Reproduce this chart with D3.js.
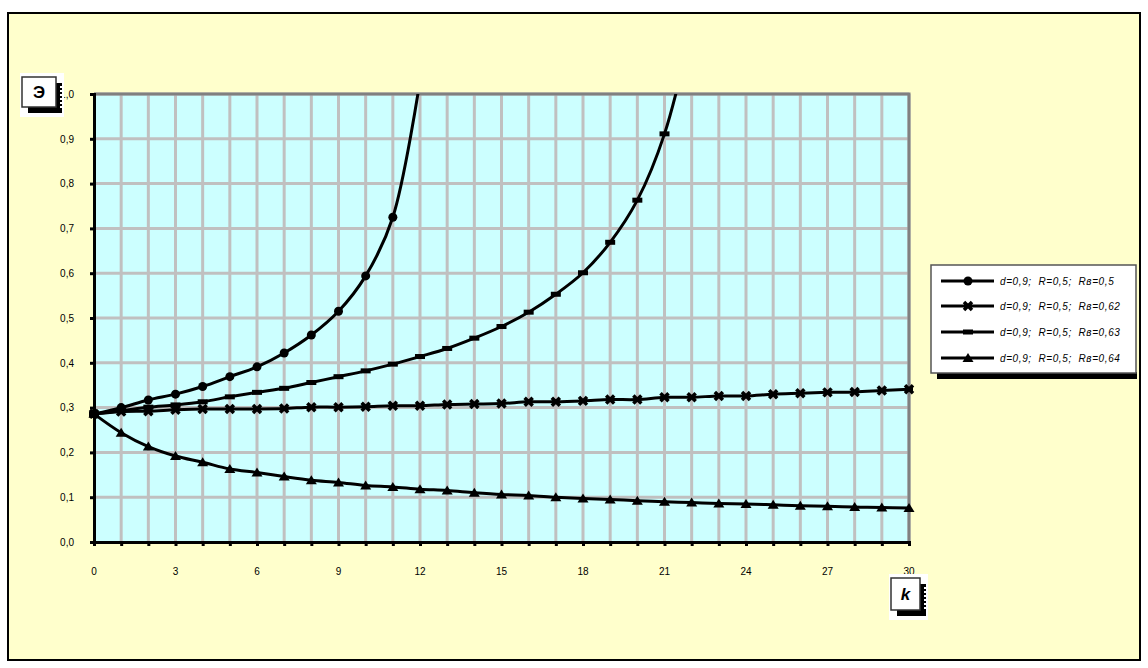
<!DOCTYPE html>
<html><head><meta charset="utf-8">
<script src="https://cdn.jsdelivr.net/npm/d3@7"></script>
<style>body{margin:0;background:#fff;}svg{display:block;font-family:"Liberation Sans",Arial,sans-serif;}</style>
</head><body>
<svg id="c" width="1148" height="668"></svg>
<script>
const kValues = d3.range(0, 31);
const yTicks = [0,0.1,0.2,0.3,0.4,0.5,0.6,0.7,0.8,0.9,1.0];
const xTickLabels = [0,3,6,9,12,15,18,21,24,27,30];
const seriesNames = ["d=0,9;  R=0,5;  Rв=0,5","d=0,9;  R=0,5;  Rв=0,62","d=0,9;  R=0,5;  Rв=0,63","d=0,9;  R=0,5;  Rв=0,64"];
// Rв=0,5 (circles) — values up to k=12 (last one beyond the axis)
const s1 = [0.286,0.300,0.317,0.330,0.347,0.369,0.391,0.422,0.462,0.515,0.594,0.725,1.03];
// Rв=0,62 (x markers)
const s2 = [0.286,0.291,0.292,0.295,0.297,0.297,0.297,0.298,0.301,0.301,0.302,0.304,0.304,0.307,0.308,0.309,0.313,0.313,0.315,0.318,0.318,0.323,0.323,0.326,0.326,0.330,0.332,0.334,0.335,0.338,0.341];
// Rв=0,63 (dash markers) — values up to k=22 (last one beyond the axis)
const s3 = [0.286,0.293,0.301,0.306,0.313,0.324,0.334,0.343,0.356,0.369,0.382,0.397,0.414,0.432,0.455,0.481,0.513,0.553,0.601,0.669,0.763,0.911,1.15];
// Rв=0,64 (triangles)
const s4 = [0.286,0.244,0.213,0.192,0.178,0.163,0.155,0.146,0.138,0.133,0.126,0.123,0.118,0.115,0.110,0.106,0.104,0.100,0.097,0.095,0.092,0.090,0.088,0.086,0.085,0.083,0.081,0.080,0.078,0.077,0.076];
const markerTypes = ["circle","x","dash","triangle"];
const allSeries = [s1,s2,s3,s4];

const svg = d3.select("#c");
svg.append("rect").attr("x",8).attr("y",13).attr("width",1132).attr("height",647)
  .attr("fill","#FFFFCC").attr("stroke","#000").attr("stroke-width",2);

const L=94, R=909, T=94, B=542;
const x = d3.scaleLinear().domain([0,30]).range([L,R]);
const y = d3.scaleLinear().domain([0,1]).range([B,T]);

svg.append("rect").attr("x",L).attr("y",T).attr("width",R-L).attr("height",B-T).attr("fill","#CCFFFF");
const g = svg.append("g");
g.selectAll("line.v").data(kValues.slice(1)).enter().append("line")
  .attr("x1",d=>x(d)).attr("x2",d=>x(d)).attr("y1",T).attr("y2",B)
  .attr("stroke","#C0C0C0").attr("stroke-width",3);
g.selectAll("line.h").data(yTicks.slice(1)).enter().append("line")
  .attr("x1",L).attr("x2",R).attr("y1",d=>y(d)).attr("y2",d=>y(d))
  .attr("stroke","#C0C0C0").attr("stroke-width",3);
svg.append("path").attr("d",`M${L},${T}H${R}V${B}`).attr("fill","none").attr("stroke","#808080").attr("stroke-width",3);

const xAxis = d3.axisBottom(x).tickValues(kValues).tickSize(4).tickFormat("");
const ax = svg.append("g").attr("transform",`translate(0,${B})`).call(xAxis);
ax.select(".domain").attr("stroke","#000").attr("stroke-width",3);
ax.selectAll(".tick line").attr("stroke","#000").attr("stroke-width",3);
svg.selectAll("text.xl").data(xTickLabels).enter().append("text")
  .attr("x",d=>x(d)).attr("y",575).attr("text-anchor","middle").attr("font-size",10).text(d=>d);

const yAxis = d3.axisLeft(y).tickValues(yTicks).tickSize(4).tickFormat(d=>d3.format(".1f")(d).replace(".",","));
const ay = svg.append("g").attr("transform",`translate(${L},0)`).call(yAxis);
ay.select(".domain").attr("stroke","#000").attr("stroke-width",3);
ay.selectAll(".tick line").attr("stroke","#000").attr("stroke-width",3);
ay.selectAll(".tick text").attr("font-size",10).attr("x",-20).attr("fill","#000").attr("font-family","Liberation Sans, Arial, sans-serif");

svg.append("clipPath").attr("id","clip").append("rect").attr("x",L-6).attr("y",T).attr("width",R-L+12).attr("height",B-T+6);
const plot = svg.append("g").attr("clip-path","url(#clip)");
const line = d3.line().x((d,i)=>x(i)).y(d=>y(d)).curve(d3.curveCatmullRom.alpha(0.5));

function marker(sel, type, cx, cy){
  if(type==="circle") sel.append("circle").attr("cx",cx).attr("cy",cy).attr("r",4.5).attr("fill","#000");
  else if(type==="x") sel.append("path").attr("d",`M${cx-4},${cy-4}L${cx+4},${cy+4}M${cx+4},${cy-4}L${cx-4},${cy+4}M${cx-4},${cy}H${cx+4}`).attr("stroke","#000").attr("stroke-width",3.5);
  else if(type==="dash") sel.append("rect").attr("x",cx-5).attr("y",cy-2.5).attr("width",10).attr("height",5).attr("fill","#000");
  else sel.append("path").attr("d",`M${cx},${cy-5}L${cx+5.5},${cy+4}L${cx-5.5},${cy+4}Z`).attr("fill","#000");
}

allSeries.forEach((s,si)=>{
  plot.append("path").datum(s).attr("d",line).attr("fill","none").attr("stroke","#000").attr("stroke-width",3);
  s.forEach((v,i)=>{ if(v<=1.0) marker(plot, markerTypes[si], x(i), y(v)); });
});

function iconBox(x0,y0,w,h,label,italic){
  svg.append("rect").attr("x",x0-2).attr("y",y0-4).attr("width",w+10).attr("height",h+14).attr("fill","#fff");
  svg.append("rect").attr("x",x0+6).attr("y",y0+6).attr("width",w).attr("height",h).attr("fill","#000");
  for(let t=0;t<6;t++){
    svg.append("rect").attr("x",x0+w+4).attr("y",y0+9+t*4).attr("width",2).attr("height",2).attr("fill","#fff");
  }
  svg.append("rect").attr("x",x0).attr("y",y0).attr("width",w).attr("height",h).attr("fill","#fff").attr("stroke","#333").attr("stroke-width",1.5);
  svg.append("text").attr("x",x0+w/2).attr("y",y0+h/2+6).attr("text-anchor","middle")
    .attr("font-size",17).attr("font-weight","bold").attr("font-style",italic?"italic":"normal").text(label);
}
iconBox(22,77,34,30,"Э",false);
iconBox(891,578,29,32,"k",true);

svg.append("rect").attr("x",937).attr("y",372).attr("width",200).attr("height",7).attr("fill","#000");
svg.append("rect").attr("x",931).attr("y",265).attr("width",205).attr("height",108).attr("fill","#fff").attr("stroke","#555").attr("stroke-width",1.5);
const ly=[281,306,332,358];
seriesNames.forEach((n,i)=>{
  svg.append("line").attr("x1",941).attr("x2",994).attr("y1",ly[i]).attr("y2",ly[i]).attr("stroke","#000").attr("stroke-width",3);
  marker(svg, markerTypes[i], 968, ly[i]);
  svg.append("text").attr("x",1000).attr("y",ly[i]+3.5).attr("font-size",10).attr("letter-spacing",0.6).attr("font-style","italic").style("white-space","pre").text(n);
});
</script>
</body></html>
